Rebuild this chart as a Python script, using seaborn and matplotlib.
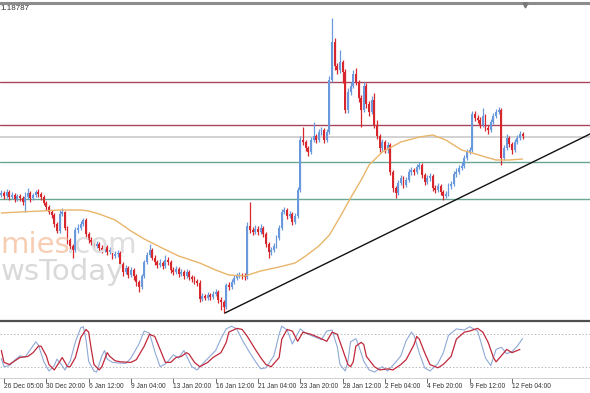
import numpy as np
import pandas as pd
import matplotlib
matplotlib.use("Agg")
import matplotlib.pyplot as plt
import seaborn as sns

sns.set_theme(style="white")
plt.rcParams['font.family'] = ['Liberation Sans', 'DejaVu Sans']

# ---------------- data (prices in points above 1.1000) ----------------
BASE = 1.1000
PIP = 0.0001
first_bar = -1
first_open_pts = 805
close_pts = [807, 804, 808, 803, 805, 801, 804, 802, 798, 803,
             807, 802, 805, 808, 806, 803, 797, 793, 788, 785,
             776, 769, 786, 788, 772, 760, 754, 750, 770, 772,
             776, 780, 766, 760, 758, 754, 756, 752, 750, 753,
             748, 750, 744, 746, 747, 736, 728, 732, 725, 730,
             724, 718, 713, 724, 738, 745, 750, 742, 738, 735,
             737, 734, 740, 738, 730, 728, 731, 726, 728, 724,
             728, 723, 721, 719, 717, 701, 704, 702, 705, 703,
             706, 708, 700, 698, 693, 715, 713, 718, 722, 724,
             725, 724, 723, 774, 770, 768, 771, 768, 772, 766,
             756, 748, 750, 754, 762, 772, 788, 790, 784, 786,
             778, 784, 810, 860, 858, 852, 848, 860, 864, 860,
             868, 870, 860, 868, 920, 958, 934, 930, 938, 928,
             890, 908, 914, 926, 918, 902, 890, 914, 896, 888,
             900, 875, 864, 852, 858, 850, 855, 828, 812, 807,
             817, 822, 815, 820, 828, 830, 828, 833, 835, 825,
             818, 822, 824, 812, 810, 814, 808, 804, 806, 814,
             816, 826, 828, 832, 834, 842, 848, 850, 886, 882,
             880, 875, 884, 872, 870, 878, 884, 888, 890, 842,
             852, 862, 856, 850, 858, 862, 866, 864]
high_pts = [810, 809, 811, 810, 808, 807, 806, 806, 804, 808,
            812, 809, 807, 810, 811, 808, 805, 799, 795, 790,
            787, 778, 790, 792, 789, 774, 762, 756, 773, 776,
            779, 782, 782, 768, 763, 760, 759, 758, 755, 756,
            755, 753, 752, 749, 750, 749, 738, 735, 734, 733,
            732, 726, 720, 726, 740, 748, 756, 752, 745, 740,
            741, 739, 745, 743, 740, 733, 734, 733, 731, 730,
            731, 730, 725, 724, 721, 720, 707, 706, 708, 707,
            709, 711, 710, 703, 700, 717, 718, 721, 725, 727,
            728, 727, 727, 778, 798, 773, 775, 774, 776, 774,
            768, 758, 753, 757, 765, 775, 791, 793, 792, 789,
            788, 787, 813, 864, 873, 860, 854, 863, 878, 866,
            871, 873, 872, 871, 924, 982, 962, 937, 950, 940,
            931, 912, 918, 930, 932, 920, 905, 918, 917, 899,
            904, 907, 880, 866, 861, 860, 858, 857, 830, 814,
            820, 825, 824, 823, 831, 833, 832, 836, 838, 837,
            827, 825, 827, 826, 815, 817, 816, 810, 809, 817,
            819, 829, 832, 835, 838, 845, 851, 853, 889, 889,
            885, 883, 892, 886, 875, 881, 887, 891, 893, 892,
            855, 866, 864, 858, 861, 865, 869, 868]
low_pts = [803, 801, 802, 800, 801, 798, 799, 799, 795, 788,
           801, 798, 800, 803, 803, 800, 795, 790, 786, 782,
           773, 767, 767, 784, 770, 756, 748, 742, 748, 767,
           770, 774, 763, 757, 755, 751, 752, 749, 747, 748,
           745, 746, 741, 742, 743, 733, 724, 726, 722, 723,
           720, 714, 708, 711, 722, 736, 743, 740, 735, 732,
           733, 731, 732, 735, 727, 725, 726, 723, 724, 721,
           722, 720, 718, 716, 714, 698, 699, 700, 700, 700,
           701, 704, 697, 690, 687, 691, 710, 711, 716, 720,
           722, 721, 720, 721, 767, 765, 766, 765, 766, 763,
           753, 742, 745, 748, 752, 760, 770, 786, 781, 782,
           775, 776, 782, 808, 855, 849, 844, 846, 858, 857,
           858, 865, 857, 858, 866, 918, 930, 926, 927, 917,
           887, 887, 905, 912, 915, 898, 873, 888, 892, 884,
           886, 872, 861, 848, 849, 847, 847, 825, 808, 802,
           805, 815, 812, 813, 818, 825, 825, 826, 831, 822,
           815, 816, 819, 809, 807, 808, 805, 800, 802, 804,
           811, 814, 823, 826, 830, 832, 840, 846, 848, 879,
           877, 872, 873, 869, 866, 868, 876, 882, 886, 835,
           840, 850, 853, 846, 848, 856, 860, 861]

ma_bars = [-1, 6, 14, 21, 29, 32, 36, 42, 48, 53, 59, 66, 74, 80, 85, 91, 97, 104, 110, 114,
           119, 123, 127, 131, 135, 138, 143, 150, 157, 162, 167, 173, 177, 182, 186, 191, 196]
ma_pts = [787, 788, 789, 790, 790, 789, 786, 780, 769, 761, 753, 744, 737, 730, 725, 724, 729, 733, 737, 744,
          754, 765, 783, 802, 820, 835, 848, 858, 863, 865, 860, 850, 847, 843, 840, 840, 841]

stoch_d_bars = [-1, 0, 2, 6, 9, 11, 13, 14, 16, 17, 19, 21, 22, 24, 25, 27, 29, 31, 32, 33,
                34, 36, 37, 39, 40, 42, 44, 48, 50, 53, 55, 57, 59, 61, 63, 65, 67, 69, 70, 72,
                74, 77, 79, 82, 84, 85, 88, 90, 92, 95, 97, 99, 101, 104, 105, 107, 109, 111, 113, 116,
                119, 122, 124, 126, 128, 130, 131, 132, 133, 135, 136, 137, 140, 142, 145, 147, 150, 152, 155, 156,
                157, 159, 161, 164, 166, 169, 171, 174, 176, 179, 181, 183, 185, 186, 189, 190, 192, 195]
stoch_d = [50, 28, 24, 37, 39, 46, 58, 58, 40, 24, 14, 29, 37, 20, 20, 37, 74, 89, 84, 52,
           24, 14, 20, 46, 39, 31, 29, 28, 33, 58, 80, 76, 52, 28, 28, 37, 39, 46, 43, 28,
           20, 28, 37, 46, 65, 84, 91, 89, 76, 52, 37, 24, 20, 37, 71, 89, 86, 67, 84, 80,
           74, 67, 84, 80, 52, 24, 20, 29, 58, 65, 61, 39, 20, 14, 16, 14, 24, 33, 61, 76,
           71, 46, 24, 18, 24, 39, 71, 84, 86, 91, 84, 65, 37, 29, 46, 52, 46, 52]
stoch_k_bars = [-1, 0, 2, 4, 6, 8, 10, 12, 13, 15, 17, 19, 20, 22, 23, 25, 27, 29, 30, 31,
                32, 34, 35, 37, 38, 39, 41, 43, 46, 48, 51, 53, 55, 57, 59, 61, 62, 64, 66, 68,
                69, 71, 73, 76, 78, 80, 82, 84, 86, 88, 90, 93, 95, 97, 99, 102, 104, 105, 107, 109,
                110, 112, 114, 117, 120, 122, 124, 126, 127, 129, 130, 131, 133, 134, 136, 138, 140, 143, 145, 148,
                150, 152, 154, 155, 157, 159, 161, 164, 166, 168, 171, 174, 176, 179, 180, 182, 184, 186, 188, 190,
                192, 194, 196]
stoch_k = [35, 20, 22, 32, 40, 38, 52, 66, 60, 30, 12, 22, 34, 22, 14, 30, 66, 92, 94, 70,
           30, 12, 10, 40, 50, 34, 28, 27, 26, 36, 62, 86, 82, 48, 20, 25, 30, 42, 36, 50,
           40, 20, 14, 30, 40, 50, 72, 90, 95, 90, 70, 45, 30, 16, 18, 40, 80, 95, 88, 62,
           72, 90, 82, 76, 70, 86, 88, 56, 24, 12, 30, 66, 72, 60, 30, 14, 10, 20, 12, 28,
           40, 68, 84, 78, 45, 18, 12, 26, 45, 78, 90, 88, 94, 86, 70, 36, 22, 52, 56, 44,
           48, 58, 72]

resistance_pts = [918, 875]
support_pts = [838, 801]
current_pts = 863
trend_bars = [83.5, 221.5]
trend_pts = [687, 866]
header_price = "1.18787"
watermark_top = ["mies", ".com"]
watermark_bottom = "wsToday"

tick_bars = [0, 16, 32, 48, 64, 80, 96, 112, 128, 144, 160, 176, 192]
tick_labels = ["26 Dec 05:00", "30 Dec 20:00", "6 Jan 12:00", "9 Jan 04:00", "13 Jan 20:00",
               "16 Jan 12:00", "21 Jan 04:00", "23 Jan 20:00", "28 Jan 12:00", "2 Feb 04:00",
               "4 Feb 20:00", "9 Feb 12:00", "12 Feb 04:00"]

# ---------------- build ----------------
def px(v):
    return BASE + np.asarray(v, dtype=float) * PIP

close = px(close_pts)
opens = np.r_[px(first_open_pts), close[:-1]]
df = pd.DataFrame({
    "bar": np.arange(first_bar, first_bar + len(close_pts)),
    "open": opens, "close": close, "high": px(high_pts), "low": px(low_pts),
})
BLUE = "#6a98dc"
RED = "#d7262c"
cols = np.where(df["close"] >= df["open"], BLUE, RED)

W, H = 590, 393
fig = plt.figure(figsize=(W / 100, H / 100), dpi=100)
fig.patch.set_facecolor("white")
ax = fig.add_axes([0, 1 - 321 / H, 1, 318 / H])
ax2 = fig.add_axes([0, 1 - 377.5 / H, 1, 54 / H])

XL = (-1.51, 221.5)
for a in (ax, ax2):
    a.set_facecolor("white")
    a.set_xlim(*XL)

ax.set_ylim(1.2000 - 0.0321, 1.2000 - 0.0003)

# horizontal levels
for r in resistance_pts:
    ax.axhline(px(r), color="#a8465c", lw=1.0, zorder=1)
for s in support_pts:
    ax.axhline(px(s), color="#6aa693", lw=1.0, zorder=1)
ax.axhline(px(current_pts), color="#d2d2d2", lw=1.4, zorder=1)

# watermark (visible part only, as in the reference)
wm1 = fig.text(0.5 / W, 1 - 253 / H, watermark_top[0], fontsize=21, color="#f7cdb4", ha="left",
               va="baseline", family=["DejaVu Sans"], zorder=0)
fig.text(66 / W, 1 - 253 / H, watermark_top[1], fontsize=21, color="#dedede", ha="left",
         va="baseline", family=["DejaVu Sans"], zorder=0)
fig.text(0.5 / W, 1 - 280 / H, watermark_bottom, fontsize=21, color="#d9d9d9", ha="left",
         va="baseline", family=["DejaVu Sans"], zorder=0)

# candles
ax.vlines(df["bar"], df["low"], df["high"], colors=cols, lw=0.9, zorder=3)
body_h = np.maximum((df["close"] - df["open"]).abs(), 0.00012)
ax.bar(df["bar"], body_h, bottom=np.minimum(df["open"], df["close"]), width=0.72,
       color=cols, linewidth=0, zorder=3)

# moving average
sns.lineplot(x=ma_bars, y=px(ma_pts), ax=ax, color="#e9b56a", lw=1.0, zorder=4)

# trend line
sns.lineplot(x=trend_bars, y=px(trend_pts), ax=ax, color="#111111", lw=1.0, zorder=5)

ax.plot([196.8], [1.2000 - 0.0005], marker="v", color="#777777", ms=3.5, clip_on=False, zorder=6)

ax.set_xticks([])
ax.set_yticks([])
for s in ("left", "right"):
    ax.spines[s].set_visible(False)
ax.spines["top"].set_color("#8c8c8c")
ax.spines["top"].set_linewidth(2.2)
ax.spines["bottom"].set_color("#505050")
ax.spines["bottom"].set_linewidth(1.6)
ax.set_xlabel("")
ax.set_ylabel("")

fig.text(0.5 / W, 1 - 10 / H, header_price, fontsize=5.8, color="#333333", va="baseline", ha="left")

# stochastic panel
ax2.set_ylim(0, 100)
ax2.axhline(80, color="#b8b8b8", lw=0.7, ls=(0, (1.5, 2)))
ax2.axhline(20, color="#b8b8b8", lw=0.7, ls=(0, (1.5, 2)))
sns.lineplot(x=stoch_k_bars, y=stoch_k, ax=ax2, color="#8fa9d6", lw=0.8)
sns.lineplot(x=stoch_d_bars, y=stoch_d, ax=ax2, color="#c0283c", lw=0.9)
for s in ("left", "right", "top"):
    ax2.spines[s].set_visible(False)
ax2.spines["bottom"].set_color("#c8c8c8")
ax2.spines["bottom"].set_linewidth(0.6)
ax2.set_yticks([])
ax2.set_xticks(tick_bars)
ax2.set_xticklabels(tick_labels)
ax2.tick_params(axis="x", direction="out", length=3.5, width=0.6, color="#555555",
                labelsize=4.8, labelcolor="#333333", pad=0.8, bottom=True)
for lbl in ax2.get_xticklabels():
    lbl.set_ha("left")
ax2.set_xlabel("")
ax2.set_ylabel("")

fig.savefig("out.png", dpi=100, facecolor="white")
